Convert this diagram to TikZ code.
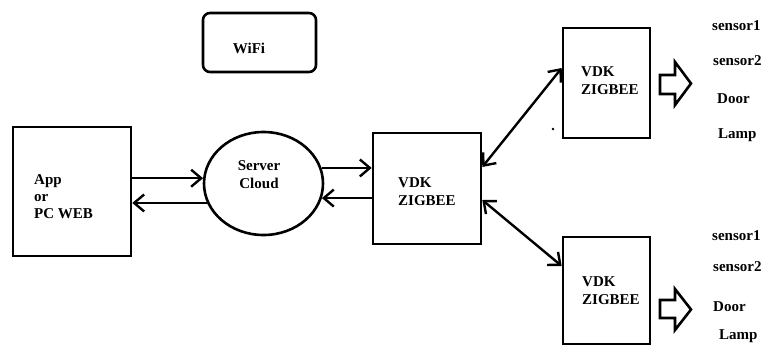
\documentclass[tikz,border=0pt]{standalone}
\usepackage{fontspec}
\setmainfont{Liberation Serif}
\usetikzlibrary{arrows.meta,shapes.geometric}
\tikzset{
  box/.style={draw, line width=2.6pt, inner sep=0pt},
  lbl/.style={font=\fontsize{15}{18}\selectfont\bfseries, inner sep=0pt, align=left},
  barb/.tip={Straight Barb[length=10pt,width=17pt,line width=2.4pt]},
  arr/.style={line width=2.4pt, -barb},
  dbl/.style={line width=2.4pt, barb-barb},
  blockarrow/.style={draw, line width=2.6pt, line join=miter, fill=white}
}
\begin{document}
\begin{tikzpicture}[x=1pt, y=-1pt]
\useasboundingbox (0,0) rectangle (762,346);

% boxes
\node[box, minimum width=118pt, minimum height=129pt] (app) at (72,191.5) {};
\node[box, ellipse, minimum width=119pt, minimum height=103pt] (cloud) at (263.5,183.5) {};
\node[box, minimum width=108pt, minimum height=111pt] (hub) at (427,188.5) {};
\node[box, minimum width=87pt, minimum height=110pt] (zt) at (606.5,83) {};
\node[box, minimum width=87pt, minimum height=107pt] (zb) at (606.5,290.5) {};
\node[box, rounded corners=7pt, minimum width=113pt, minimum height=59pt] (wifi) at (259.5,42.5) {};

% labels
\node[lbl, anchor=west] (apptxt) at (34,197) {App\\[-1pt]or\\[-1pt]PC WEB};
\node[lbl, align=center] (cloudtxt) at (259,174.5) {Server\\Cloud};
\node[lbl, anchor=west] (hubtxt) at (398,192) {VDK\\ZIGBEE};
\node[lbl, anchor=west] (zttxt) at (581,81) {VDK\\ZIGBEE};
\node[lbl, anchor=west] (zbtxt) at (582,291) {VDK\\ZIGBEE};
\node[lbl] (wifitxt) at (249,48) {WiFi};

% device lists
\node[lbl, anchor=west] (s1a) at (712,26) {sensor1};
\node[lbl, anchor=west] (s2a) at (713,61) {sensor2};
\node[lbl, anchor=west] (da) at (717,99) {Door};
\node[lbl, anchor=west] (la) at (718,135) {Lamp};
\node[lbl, anchor=west] (s1b) at (712,236) {sensor1};
\node[lbl, anchor=west] (s2b) at (713,267) {sensor2};
\node[lbl, anchor=west] (db) at (713,307) {Door};
\node[lbl, anchor=west] (lb) at (719,336) {Lamp};

% app <-> cloud
\draw[arr] (app.east |- cloud.175.7) -- (cloud.175.7);
\draw[arr] (cloud.199.5) -- (app.east |- cloud.199.5);
% cloud <-> hub
\draw[arr] (cloud.15.3) -- (hub.west |- cloud.15.3);
\draw[arr] (hub.west |- cloud.346.8) -- (cloud.346.8);

% hub <-> end devices
\coordinate (ht) at ([yshift=21.5pt]hub.east);
\coordinate (hb) at ([yshift=-11.5pt]hub.east);
\coordinate (ztin) at ([yshift=15pt]zt.west);
\coordinate (zbin) at ([yshift=24.5pt]zb.west);
\draw[dbl] (ht) -- (ztin);
\draw[dbl] (hb) -- (zbin);

% outlined block arrows
\draw[blockarrow] (660,75) -- (675,75) -- (675,62) -- (691,83.5) -- (675,105) -- (675,94) -- (660,94) -- cycle;
\draw[blockarrow] (660,300) -- (675,300) -- (675,289) -- (691,309.5) -- (675,330) -- (675,318) -- (660,318) -- cycle;

% small dot
\fill (553,129) circle (1.4pt);
\end{tikzpicture}
\end{document}
